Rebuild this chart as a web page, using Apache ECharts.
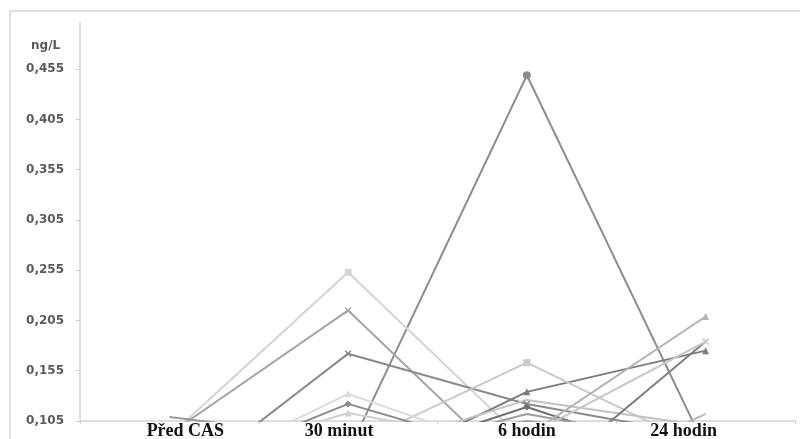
<!DOCTYPE html>
<html>
<head>
<meta charset="utf-8">
<script src="https://cdn.jsdelivr.net/npm/echarts@6/dist/echarts.min.js"></script>
<style>
  html, body { margin: 0; padding: 0; background: #fff; }
  #chart { width: 800px; height: 439px; }
</style>
</head>
<body>
<div id="chart"></div>
<script>
// Sampling times
const categories = ['Před CAS', '30 minut', '6 hodin', '24 hodin'];

// Y tick labels (ng/L)
const yTicks = [0.105, 0.155, 0.205, 0.255, 0.305, 0.355, 0.405, 0.455];

// Individual patient curves: [Před CAS, 30 minut, 6 hodin, 24 hodin]
const p01 = [0.070, 0.074, 0.449, 0.078];
const p02 = [0.090, 0.253, 0.083, 0.070];
const p03 = [0.092, 0.215, 0.045, 0.060];
const p04 = [0.035, 0.172, 0.122, 0.090];
const p05 = [0.109, 0.087, 0.060, 0.060];
const p06 = [0.060, 0.048, 0.134, 0.175];
const p07 = [0.070, 0.079, 0.163, 0.077];
const p08 = [0.045, 0.132, 0.070, 0.080];
const p09 = [0.050, 0.122, 0.070, 0.070];
const p10 = [0.060, 0.113, 0.080, 0.085];
const p11 = [0.070, 0.060, 0.119, 0.060];
const p12 = [0.080, 0.070, 0.126, 0.100];
const p13 = [0.075, 0.065, 0.112, 0.080];
const p14 = [0.060, 0.070, 0.090, 0.209];
const p15 = [0.070, 0.060, 0.035, 0.184];
const p16 = [0.070, 0.080, 0.090, 0.184];
const p17 = [0.070, 0.070, 0.030, 0.112];
const p18 = [0.080, 0.075, 0.105, 0.085];

const xMark = 'path://M0,1.5L1.5,0L5,3.5L8.5,0L10,1.5L6.5,5L10,8.5L8.5,10L5,6.5L1.5,10L0,8.5L3.5,5Z';

const curves = [
  { data: p01, color: '#8e8e8e', symbol: 'circle' },
  { data: p02, color: '#d4d4d4', symbol: 'rect' },
  { data: p03, color: '#a6a6a6', symbol: xMark },
  { data: p04, color: '#8a8a8a', symbol: xMark },
  { data: p05, color: '#9a9a9a', symbol: 'none' },
  { data: p06, color: '#7c7c7c', symbol: 'triangle' },
  { data: p07, color: '#c9c9c9', symbol: 'rect' },
  { data: p08, color: '#dadada', symbol: 'triangle' },
  { data: p09, color: '#8c8c8c', symbol: 'diamond' },
  { data: p10, color: '#cfcfcf', symbol: 'triangle' },
  { data: p11, color: '#6f6f6f', symbol: 'diamond' },
  { data: p12, color: '#c2c2c2', symbol: 'none' },
  { data: p13, color: '#9c9c9c', symbol: 'none' },
  { data: p14, color: '#b2b2b2', symbol: 'triangle' },
  { data: p15, color: '#7e7e7e', symbol: 'none' },
  { data: p16, color: '#c6c6c6', symbol: xMark },
  { data: p17, color: '#b8b8b8', symbol: 'none' },
  { data: p18, color: '#a0a0a0', symbol: 'none' }
];

const chart = echarts.init(document.getElementById('chart'), null, { renderer: 'canvas' });

chart.setOption({
  animation: false,
  backgroundColor: '#ffffff',
  title: {
    text: 'ng/L',
    left: 26,
    top: 35,
    textStyle: { fontFamily: 'DejaVu Sans', fontWeight: 'bold', fontSize: 12, color: '#5a5a5a' }
  },
  graphic: [{
    type: 'rect',
    silent: true,
    shape: { x: 10, y: 11, width: 820, height: 460 },
    style: { fill: 'none', stroke: '#d6d6d6', lineWidth: 1.5 }
  }],
  grid: { left: 80, right: 5, top: 22, bottom: 18, containLabel: false, outerBoundsMode: 'none' },
  xAxis: {
    type: 'category',
    boundaryGap: true,
    data: [
      { value: categories[0], textStyle: { padding: [0, 0, 0, 32] } },
      { value: categories[1], textStyle: { padding: [0, 18, 0, 0] } },
      { value: categories[2] },
      { value: categories[3], textStyle: { padding: [0, 44, 0, 0] } }
    ],
    axisLine: { lineStyle: { color: '#d4d4d4', width: 1.5 } },
    axisTick: { show: true, length: 3, lineStyle: { color: '#cfcfcf' } },
    axisLabel: {
      margin: 2,
      fontFamily: 'Liberation Serif',
      fontWeight: 'bold',
      fontSize: 18,
      lineHeight: 17,
      color: '#111111'
    },
    splitLine: { show: false }
  },
  yAxis: {
    type: 'value',
    min: 0.105,
    max: 0.502,
    axisLine: { show: true, lineStyle: { color: '#d4d4d4', width: 1.5 } },
    axisTick: { show: true, length: 4, lineStyle: { color: '#cfcfcf' }, customValues: yTicks },
    axisLabel: {
      customValues: yTicks,
      margin: 16,
      fontFamily: 'DejaVu Sans',
      fontWeight: 'bold',
      fontSize: 12,
      color: '#5a5a5a',
      formatter: v => v.toFixed(3).replace('.', ',')
    },
    splitLine: { show: false }
  },
  series: curves.map(c => ({
    type: 'line',
    data: c.data,
    clip: true,
    symbol: c.symbol,
    symbolSize: c.symbol === 'circle' ? 8 : 7,
    showSymbol: c.symbol !== 'none',
    lineStyle: { color: c.color, width: 2 },
    itemStyle: { color: c.color },
    z: 2
  }))
});
</script>
</body>
</html>
